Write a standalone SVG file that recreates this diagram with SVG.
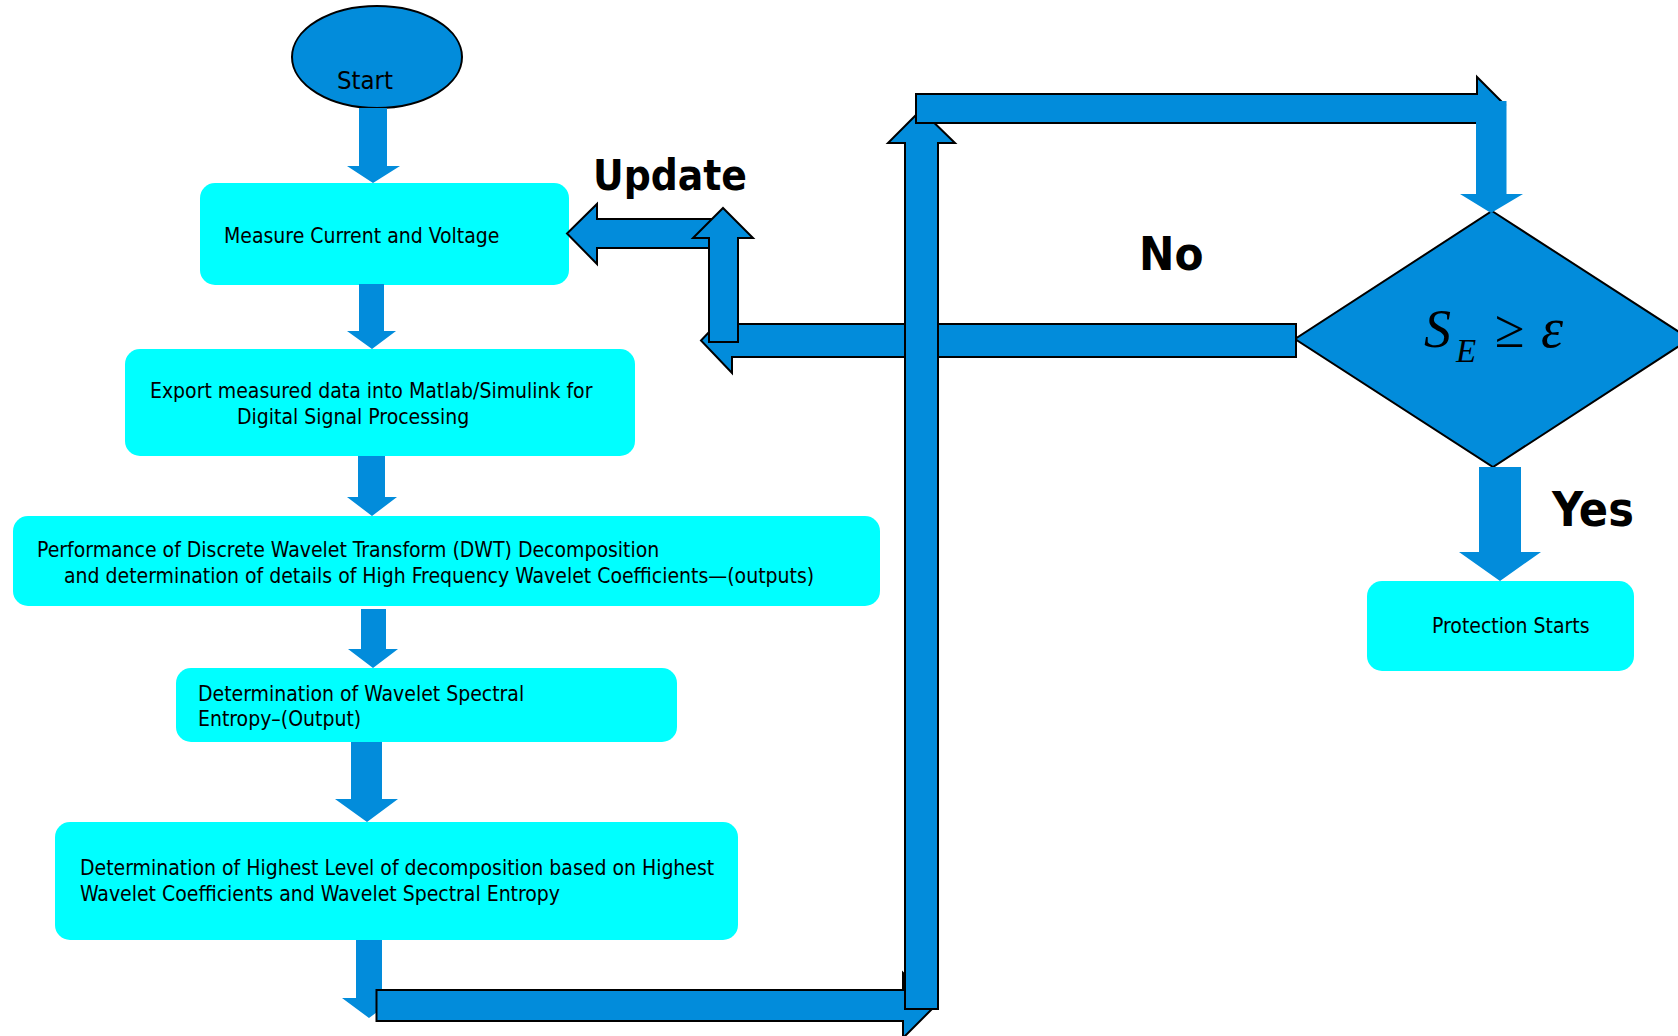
<svg xmlns="http://www.w3.org/2000/svg" width="1678" height="1036" viewBox="0 0 1678 1036">
<style>
.bx{fill:#00FFFF}
.t{font-family:"DejaVu Sans Condensed","DejaVu Sans",sans-serif;font-size:21px;fill:#000}
.lb{font-family:"DejaVu Sans Condensed","DejaVu Sans",sans-serif;font-weight:bold;fill:#000}
.da{fill:#028CDB}
.sa{fill:#028CDB;stroke:#000;stroke-width:2;stroke-linejoin:miter}
.m{font-family:"Liberation Serif","Times New Roman",serif;fill:#000}
</style>
<rect width="1678" height="1036" fill="#fff"/>
<g id="start">
<ellipse cx="377" cy="57" rx="85" ry="51" fill="#028CDB" stroke="#000" stroke-width="2"/>
<text class="t" x="337" y="89" style="font-size:25.5px">Start</text>
</g>
<g id="measure">
<rect class="bx" x="200" y="183" width="369" height="102" rx="15"/>
<text class="t" x="224" y="243">Measure Current and Voltage</text>
</g>
<g id="export">
<rect class="bx" x="125" y="349" width="510" height="107" rx="15"/>
<text class="t" x="150" y="398">Export measured data into Matlab/Simulink for</text>
<text class="t" x="237" y="424">Digital Signal Processing</text>
</g>
<g id="dwt">
<rect class="bx" x="13" y="516" width="867" height="90" rx="15"/>
<text class="t" x="37" y="557">Performance of Discrete Wavelet Transform (DWT) Decomposition</text>
<text class="t" x="64" y="583">and determination of details of High Frequency Wavelet Coefficients—(outputs)</text>
</g>
<g id="entropy">
<rect class="bx" x="176" y="668" width="501" height="74" rx="15"/>
<text class="t" x="198" y="701">Determination of Wavelet Spectral</text>
<text class="t" x="198" y="726">Entropy–(Output)</text>
</g>
<g id="highest">
<rect class="bx" x="55" y="822" width="683" height="118" rx="15"/>
<text class="t" x="80" y="875">Determination of Highest Level of decomposition based on Highest</text>
<text class="t" x="80" y="901">Wavelet Coefficients and Wavelet Spectral Entropy</text>
</g>
<g id="decision">
<polygon points="1492,211 1690,339 1493,467 1295,339" fill="#028CDB" stroke="#000" stroke-width="2"/>
<text class="m" x="1424" y="347" font-style="italic" font-size="54">S</text>
<text class="m" x="1456" y="362" font-style="italic" font-size="33">E</text>
<text class="m" x="1495" y="347" font-size="54">≥</text>
<text class="m" x="1541" y="347" font-style="italic" font-size="56">ε</text>
</g>
<g id="protection">
<rect class="bx" x="1367" y="581" width="267" height="90" rx="15"/>
<text class="t" x="1432" y="633">Protection Starts</text>
</g>
<g id="connectors">
<path class="da" d="M359,108 H387 V166 H400 L373,183 L347,166 H359 Z"/>
<path class="da" d="M359,284 H384 V331 H396 L372,349 L347,331 H359 Z"/>
<path class="da" d="M358,456 H385 V497 H397 L372,516 L347,497 H358 Z"/>
<path class="da" d="M361,609 H386 V649 H398 L373,668 L348,649 H361 Z"/>
<path class="da" d="M351,742 H382 V799 H398 L367,822 L335,799 H351 Z"/>
<path class="da" d="M356,940 H382 V998 H396 L369,1018 L342,998 H356 Z"/>
<path class="sa" d="M1296,324 H732 V308 L701,340.5 L732,373 V357 H1296 Z"/>
<path class="sa" d="M720,219 H597 V204 L567,233.5 L597,264 V248 H720 Z"/>
<path class="sa" d="M709,342 V238 H693 L723,208 L753,238 H738 V342 Z"/>
<path class="sa" d="M376.5,990 H903 V973 L935.5,1005.5 L903,1038 V1021 H376.5 Z"/>
<path class="sa" d="M905,1009 V143 H888 L921,110 L955,143 H938 V1009 Z"/>
<path class="sa" d="M916,94 H1477 V77 L1505,105 L1477,133 V123 H916 Z"/>
<path class="da" d="M1476,101 H1506.5 V194 H1523 L1491,213 L1460,194 H1476 Z"/>
<path class="da" d="M1479,467 H1521 V552 H1541 L1500,581 L1459,552 H1479 Z"/>
</g>
<g id="labels">
<text class="lb" x="593" y="190" font-size="42">Update</text>
<text class="lb" x="1139" y="270" font-size="47">No</text>
<text class="lb" x="1552" y="526" font-size="48">Yes</text>
</g>
</svg>
